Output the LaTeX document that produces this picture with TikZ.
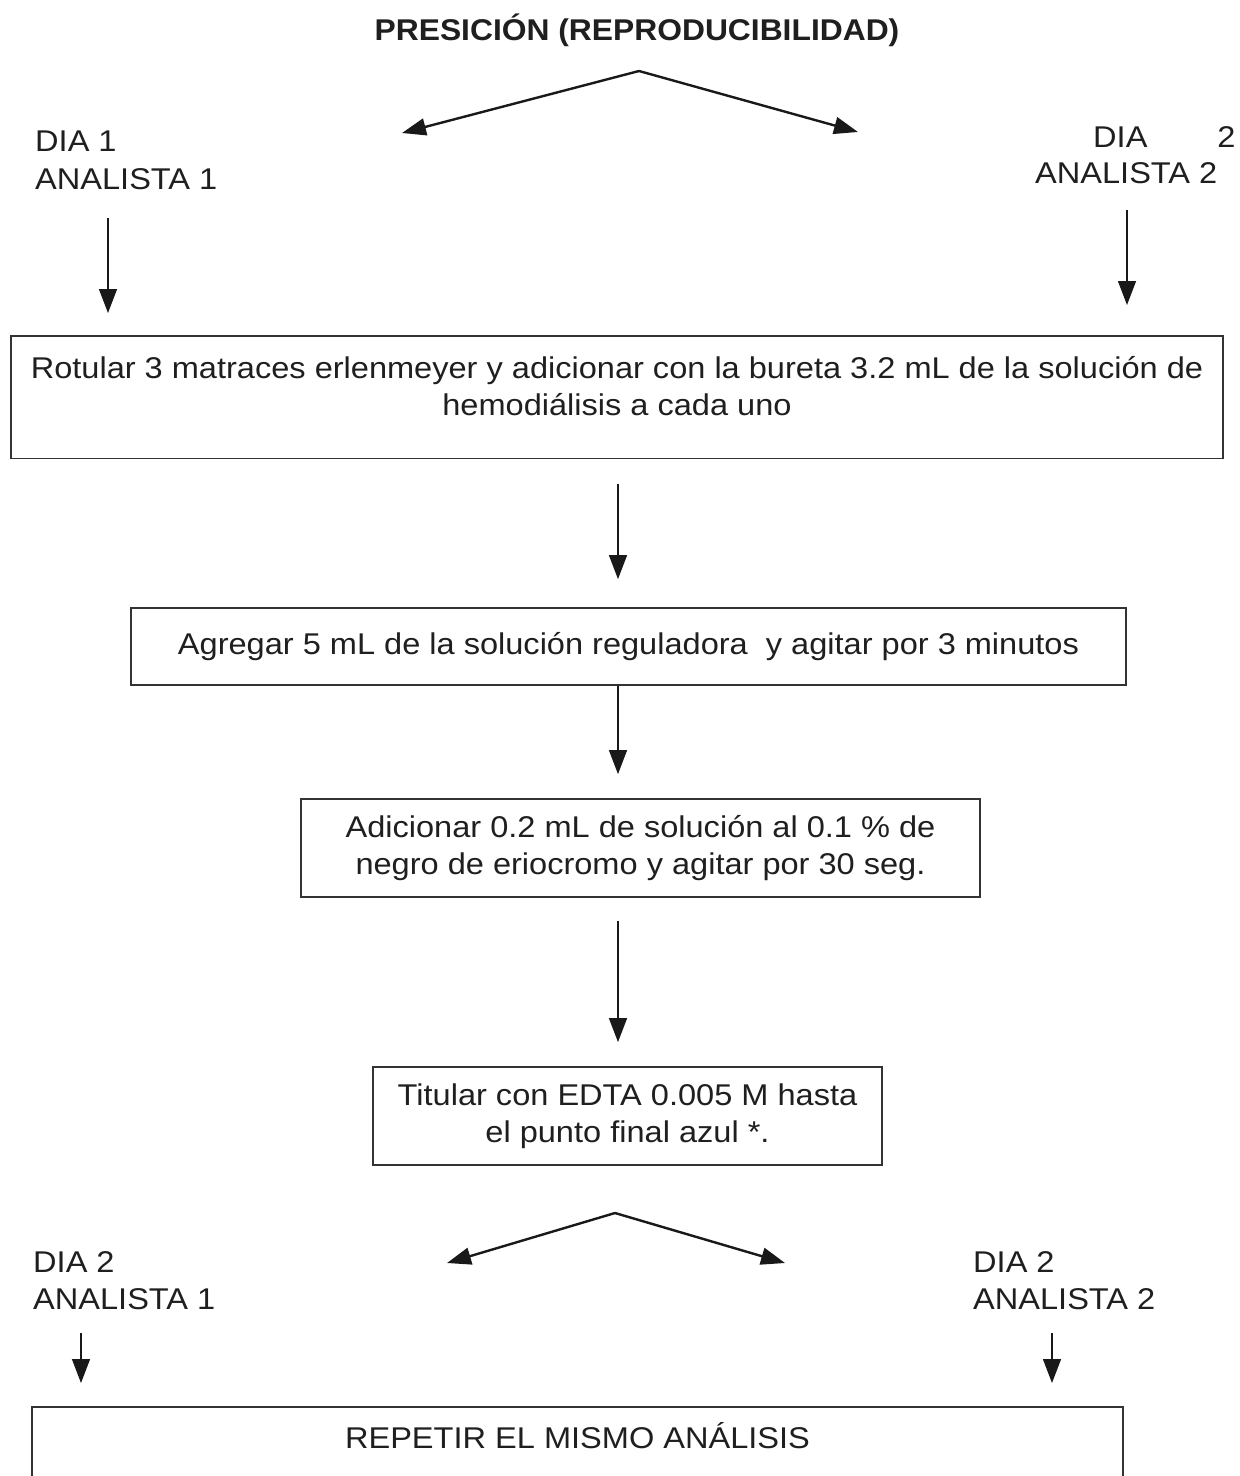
\documentclass[tikz,border=0pt]{standalone}
\usepackage{fontspec}
\setmainfont{Liberation Sans}[FakeStretch=1.085]
\newfontfamily\titlefont{Liberation Sans}[FakeStretch=1.06]
\usetikzlibrary{arrows.meta}
\begin{document}
\begin{tikzpicture}[x=1pt,y=-1pt,
  every node/.style={text=black!88},
  txt/.style={font=\fontsize{30}{37}\selectfont},
  lbl/.style={txt,align=left,anchor=north west,inner sep=0pt},
  stepbox/.style={txt,draw=black!80,line width=1.8pt,align=center,rectangle},
  arr/.style={draw=black!90,line width=1.4pt,-{Triangle[length=24pt,width=18pt]}},
  fork/.style={draw=black!90,line width=2.4pt,-{Triangle[length=24pt,width=17pt]}}]
\useasboundingbox (0,0) rectangle (1240,1476);
\clip (0,0) rectangle (1240,1476);
\fill[white] (0,0) rectangle (1240,1476);

% title
\node[font=\titlefont\fontsize{30}{37}\selectfont\bfseries] (title) at (637,30) {PRESICIÓN (REPRODUCIBILIDAD)};

% top fork
\coordinate (f1) at (639,71);
\coordinate (f1l) at (402,133);
\coordinate (f1r) at (858,132);
\draw[fork] (f1) -- (f1l);
\draw[fork] (f1) -- (f1r);

% top labels
\node[lbl,font=\fontsize{30}{38}\selectfont] (l1) at (35,131) {DIA 1\\ANALISTA 1};
\node[lbl,font=\fontsize{30}{36}\selectfont] (r1) at (1035,126) {\hspace*{58pt}DIA\hspace*{70pt}2\\ANALISTA 2};

\coordinate (a1s) at (108,218);
\coordinate (a1e) at (108,313);
\coordinate (a2s) at (1127,210);
\coordinate (a2e) at (1127,305);
\draw[arr] (a1s) -- (a1e);
\draw[arr] (a2s) -- (a2e);

% boxes
\node[stepbox,anchor=north,minimum width=1212pt,inner ysep=20.5pt] (b1) at (617,335)
  {Rotular 3 matraces erlenmeyer y adicionar con la bureta 3.2 mL de la solución de\\hemodiálisis a cada uno\rule[-22.5pt]{0pt}{1pt}};
\node[stepbox,minimum width=995pt,minimum height=77pt] (b2) at (628.5,646.5)
  {Agregar 5 mL de la solución reguladora\ \ y agitar por 3 minutos};
\node[stepbox,minimum width=679pt,minimum height=98pt] (b3) at (640.5,848)
  {Adicionar 0.2 mL de solución al 0.1 \% de\\negro de eriocromo y agitar por 30 seg.};
\node[stepbox,minimum width=509pt,minimum height=98pt] (b4) at (627.5,1116)
  {Titular con EDTA 0.005 M hasta\\el punto final azul *.};

\coordinate (ax) at (618,0);
\draw[arr,shorten <=25pt,shorten >=28pt] (b1.south -| ax) -- (b2.north -| ax);
\draw[arr,shorten >=24pt] (b2.south -| ax) -- (b3.north -| ax);
\draw[arr,shorten <=23pt,shorten >=24pt] (b3.south -| ax) -- (b4.north -| ax);

% bottom fork
\coordinate (f2) at (615,1213);
\coordinate (f2l) at (447,1263);
\coordinate (f2r) at (785,1263);
\draw[fork] (f2) -- (f2l);
\draw[fork] (f2) -- (f2r);

\node[lbl,font=\fontsize{30}{37}\selectfont] (l2) at (33,1251) {DIA 2\\ANALISTA 1};
\node[lbl,font=\fontsize{30}{37}\selectfont] (r2) at (973,1251) {DIA 2\\ANALISTA 2};

\coordinate (a3s) at (81,1333);
\coordinate (a3e) at (81,1383);
\coordinate (a4s) at (1052,1333);
\coordinate (a4e) at (1052,1383);
\draw[arr] (a3s) -- (a3e);
\draw[arr] (a4s) -- (a4e);

\node[stepbox,anchor=north,minimum width=1091pt,inner ysep=20pt,text height=22pt,text depth=100pt] (b5) at (577.5,1406)
  {REPETIR EL MISMO ANÁLISIS};
\end{tikzpicture}
\end{document}
